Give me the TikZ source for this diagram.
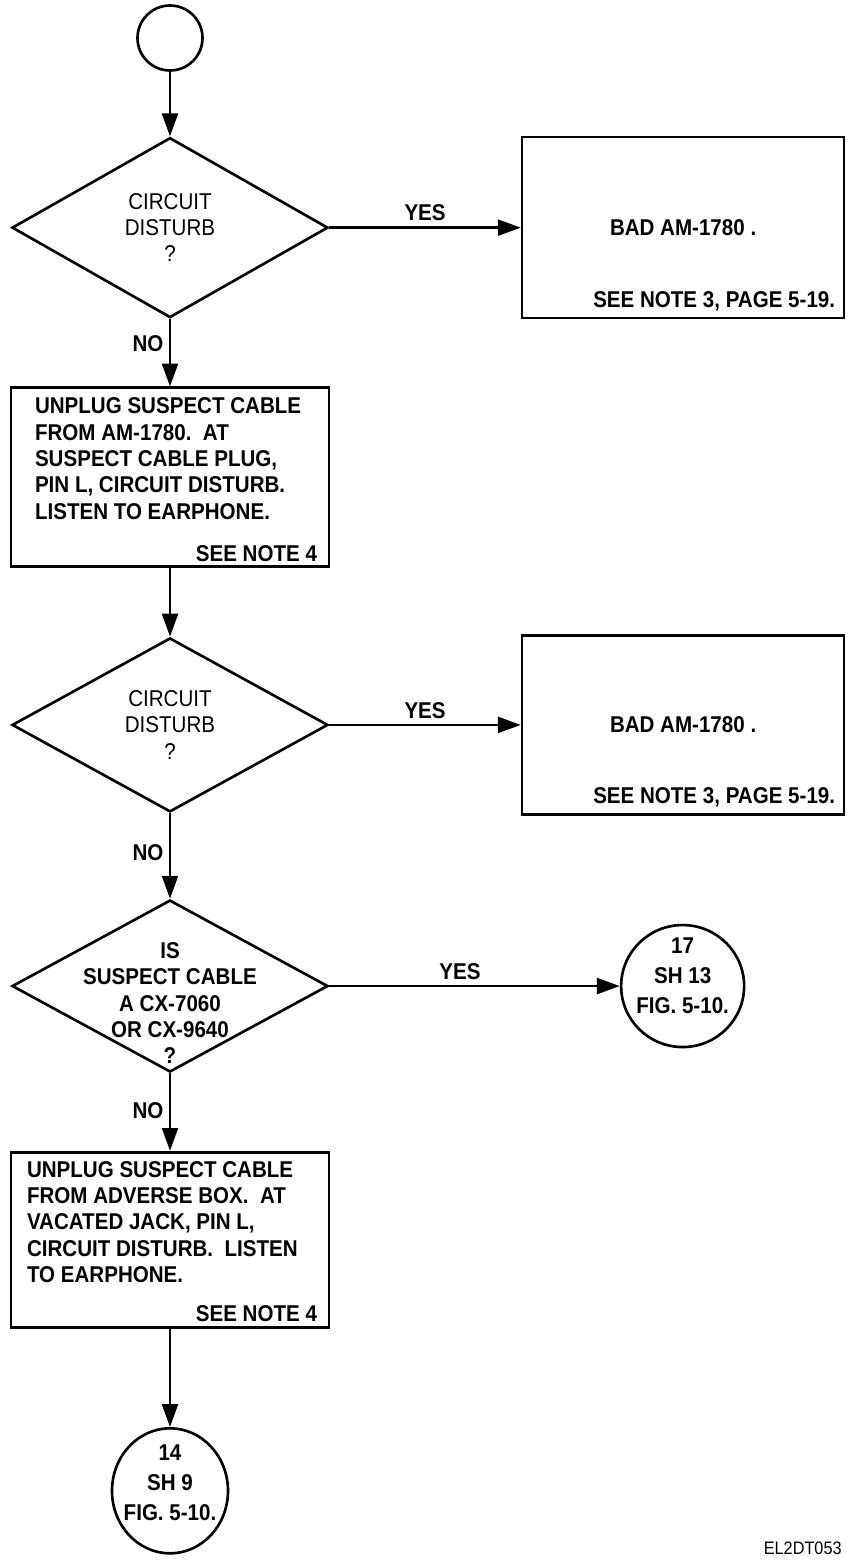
\documentclass[tikz,border=0pt]{standalone}
\usepackage{fontspec}
\setmainfont{Liberation Sans}[FakeStretch=0.9]
\usetikzlibrary{arrows.meta, positioning, shapes.geometric}

\begin{document}
\begin{tikzpicture}[
    node distance=1.4cm,
    font=\fontsize{13}{15}\selectfont,
    term/.style={circle, draw, line width=1.5pt, minimum size=1.3cm, inner sep=0pt},
    offpage/.style={ellipse, draw, line width=1.5pt, inner sep=0pt},
    offtext/.style={align=center, inner sep=0pt, font=\fontsize{13}{17}\selectfont\bfseries},
    decision/.style={diamond, draw, line width=1.5pt, minimum width=6.32cm, inner sep=0pt},
    asktext/.style={align=center, inner sep=0pt},
    actbox/.style={rectangle, draw, line width=1.5pt, minimum width=6.36cm, inner sep=0pt},
    resultbox/.style={actbox, minimum width=6.44cm, minimum height=3.62cm,
                      font=\fontsize{13}{15}\selectfont\bfseries},
    bodytext/.style={align=left, inner sep=0pt, anchor=north west,
                     font=\fontsize{13}{15}\selectfont\bfseries},
    notetext/.style={inner sep=0pt, anchor=south east, font=\fontsize{13}{15}\selectfont\bfseries},
    lbl/.style={inner sep=3pt, font=\fontsize{13}{15}\selectfont\bfseries},
    flow/.style={-{Triangle[length=13pt, width=9pt]}, line width=1.5pt},
]
  \useasboundingbox (0,0) rectangle (16.96,-31.28);

  \node[term] (start) at (3.4,-0.76) {};

  % first check
  \node[decision, minimum height=3.6cm, below=1.29cm of start] (q1) {};
  \node[asktext] (q1txt) at (q1) {CIRCUIT\\DISTURB\\?};
  \node[resultbox, right=3.83cm of q1] (bad1) {BAD AM-1780 .};
  \node[notetext] (bad1note) at ([xshift=-0.2cm, yshift=0.17cm]bad1.south east) {SEE NOTE 3, PAGE 5-19.};

  \node[actbox, minimum height=3.58cm, below=1.35cm of q1] (unplug1) {};
  \node[bodytext] (unplug1txt) at ([xshift=0.5cm, yshift=-0.22cm]unplug1.north west)
    {UNPLUG SUSPECT CABLE\\FROM AM-1780.\ \ AT\\SUSPECT CABLE PLUG,\\PIN L, CIRCUIT DISTURB.\\LISTEN TO EARPHONE.};
  \node[notetext] (unplug1note) at ([xshift=-0.26cm, yshift=0.12cm]unplug1.south east) {SEE NOTE 4};

  % second check
  \node[decision, minimum height=3.48cm, below=1.37cm of unplug1] (q2) {};
  \node[asktext] (q2txt) at (q2) {CIRCUIT\\DISTURB\\?};
  \node[resultbox, minimum height=3.58cm, right=3.83cm of q2] (bad2) {BAD AM-1780 .};
  \node[notetext] (bad2note) at ([xshift=-0.2cm, yshift=0.17cm]bad2.south east) {SEE NOTE 3, PAGE 5-19.};

  % cable type
  \node[decision, minimum height=3.44cm, below=1.71cm of q2] (q3) {};
  \node[asktext, font=\fontsize{13}{15}\selectfont\bfseries] (q3txt) at ([yshift=-0.34cm]q3.center)
    {IS\\SUSPECT CABLE\\A CX-7060\\OR CX-9640\\?};
  \node[offpage, minimum width=2.46cm, minimum height=2.44cm, right=5.81cm of q3] (sh13) {};
  \node[offtext] (sh13txt) at ([yshift=0.2cm]sh13.center) {17\\SH 13\\FIG. 5-10.};

  \node[actbox, minimum height=3.5cm, below=1.55cm of q3] (unplug2) {};
  \node[bodytext] (unplug2txt) at ([xshift=0.34cm, yshift=-0.2cm]unplug2.north west)
    {UNPLUG SUSPECT CABLE\\FROM ADVERSE BOX.\ \ AT\\VACATED JACK, PIN L,\\CIRCUIT DISTURB.\ \ LISTEN\\TO EARPHONE.};
  \node[notetext] (unplug2note) at ([xshift=-0.26cm, yshift=0.12cm]unplug2.south east) {SEE NOTE 4};

  \node[offpage, minimum width=2.32cm, minimum height=2.5cm, below=1.97cm of unplug2] (sh9) {};
  \node[offtext] (sh9txt) at ([yshift=0.16cm]sh9.center) {14\\SH 9\\FIG. 5-10.};

  \node[anchor=base east, inner sep=0pt, font=\fontsize{10.3}{12}\selectfont] (figid) at (16.84,-31.09) {EL2DT053};

  % connectors
  \draw[flow] (start) -- (q1);
  \draw[flow] (q1) -- node[lbl, above] (yes1) {YES} (bad1);
  \draw[flow] (q1) -- node[lbl, left, pos=0.36] (no1) {NO} (unplug1);
  \draw[flow] (unplug1) -- (q2);
  \draw[flow] (q2) -- node[lbl, above] (yes2) {YES} (bad2);
  \draw[flow] (q2) -- node[lbl, left, pos=0.46] (no2) {NO} (q3);
  \draw[flow] (q3) -- node[lbl, above, pos=0.45] (yes3) {YES} (sh13);
  \draw[flow] (q3) -- node[lbl, left, pos=0.48] (no3) {NO} (unplug2);
  \draw[flow] (unplug2) -- (sh9);
\end{tikzpicture}
\end{document}
